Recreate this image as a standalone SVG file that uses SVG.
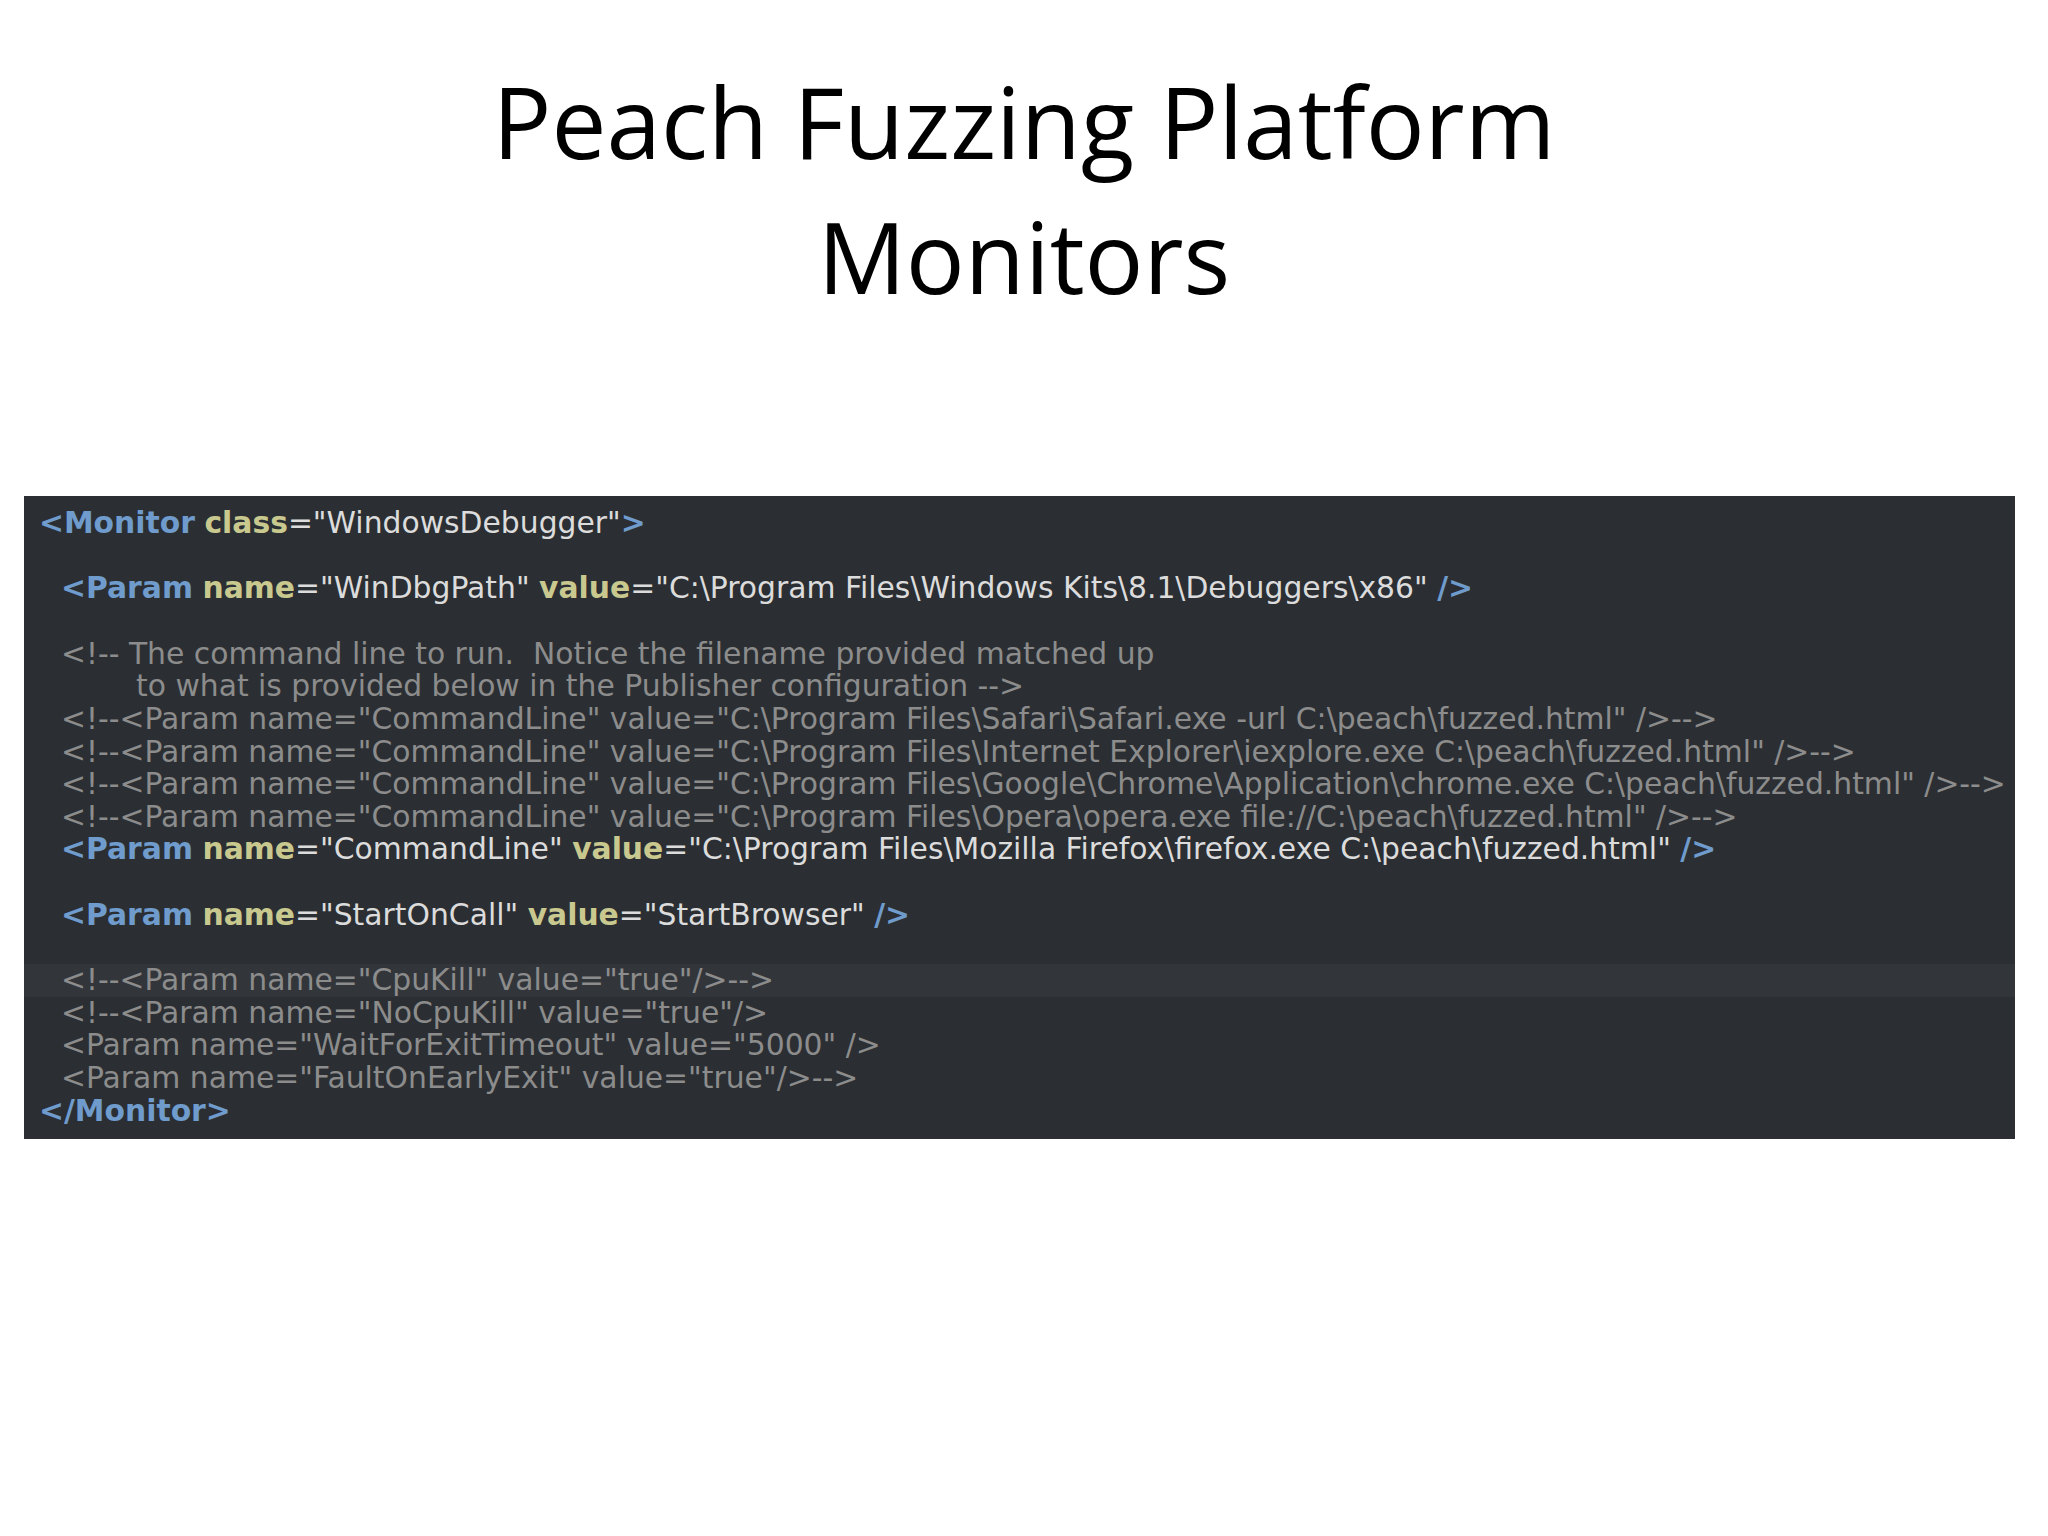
<svg xmlns="http://www.w3.org/2000/svg" width="2048" height="1536" viewBox="0 0 2048 1536">
<style>
.t{font-family:"Open Sans","Liberation Sans",sans-serif;font-size:98px;fill:#000;text-anchor:middle}
.c{font-family:"DejaVu Sans",Verdana,sans-serif;font-size:29.8px;fill:#dcdcdc}
.g{fill:#8c8c8c}
.k{fill:#6f9ccc;font-weight:bold}
.a{fill:#c9c98f;font-weight:bold}
</style>
<rect width="2048" height="1536" fill="#fff"/>
<g id="title">
<text class="t" x="1024" y="159">Peach Fuzzing Platform</text>
<text class="t" x="1024" y="294">Monitors</text>
</g>
<g id="code">
<rect x="24" y="496" width="1991" height="643" fill="#2b2f33"/>
<rect x="24" y="964" width="1991" height="33" fill="#32363b"/>
<text class="c" xml:space="preserve"><tspan x="39" y="533"><tspan class="k">&lt;Monitor</tspan> <tspan class="a">class</tspan>="WindowsDebugger"<tspan class="k">&gt;</tspan></tspan><tspan x="61" y="598"><tspan class="k">&lt;Param</tspan> <tspan class="a">name</tspan>="WinDbgPath" <tspan class="a">value</tspan>="C:\Program Files\Windows Kits\8.1\Debuggers\x86" <tspan class="k">/&gt;</tspan></tspan><tspan class="g" x="61" y="664">&lt;!-- The command line to run.  Notice the filename provided matched up</tspan><tspan class="g" x="136" y="696">to what is provided below in the Publisher configuration --&gt;</tspan><tspan class="g" x="61" y="729">&lt;!--&lt;Param name="CommandLine" value="C:\Program Files\Safari\Safari.exe -url C:\peach\fuzzed.html" /&gt;--&gt;</tspan><tspan class="g" x="61" y="762">&lt;!--&lt;Param name="CommandLine" value="C:\Program Files\Internet Explorer\iexplore.exe C:\peach\fuzzed.html" /&gt;--&gt;</tspan><tspan class="g" x="61" y="794">&lt;!--&lt;Param name="CommandLine" value="C:\Program Files\Google\Chrome\Application\chrome.exe C:\peach\fuzzed.html" /&gt;--&gt;</tspan><tspan class="g" x="61" y="827">&lt;!--&lt;Param name="CommandLine" value="C:\Program Files\Opera\opera.exe file://C:\peach\fuzzed.html" /&gt;--&gt;</tspan><tspan x="61" y="859"><tspan class="k">&lt;Param</tspan> <tspan class="a">name</tspan>="CommandLine" <tspan class="a">value</tspan>="C:\Program Files\Mozilla Firefox\firefox.exe C:\peach\fuzzed.html" <tspan class="k">/&gt;</tspan></tspan><tspan x="61" y="925"><tspan class="k">&lt;Param</tspan> <tspan class="a">name</tspan>="StartOnCall" <tspan class="a">value</tspan>="StartBrowser" <tspan class="k">/&gt;</tspan></tspan><tspan class="g" x="61" y="990">&lt;!--&lt;Param name="CpuKill" value="true"/&gt;--&gt;</tspan><tspan class="g" x="61" y="1023">&lt;!--&lt;Param name="NoCpuKill" value="true"/&gt;</tspan><tspan class="g" x="61" y="1055">&lt;Param name="WaitForExitTimeout" value="5000" /&gt;</tspan><tspan class="g" x="61" y="1088">&lt;Param name="FaultOnEarlyExit" value="true"/&gt;--&gt;</tspan><tspan class="k" x="39" y="1121">&lt;/Monitor&gt;</tspan></text>
</g>
</svg>
